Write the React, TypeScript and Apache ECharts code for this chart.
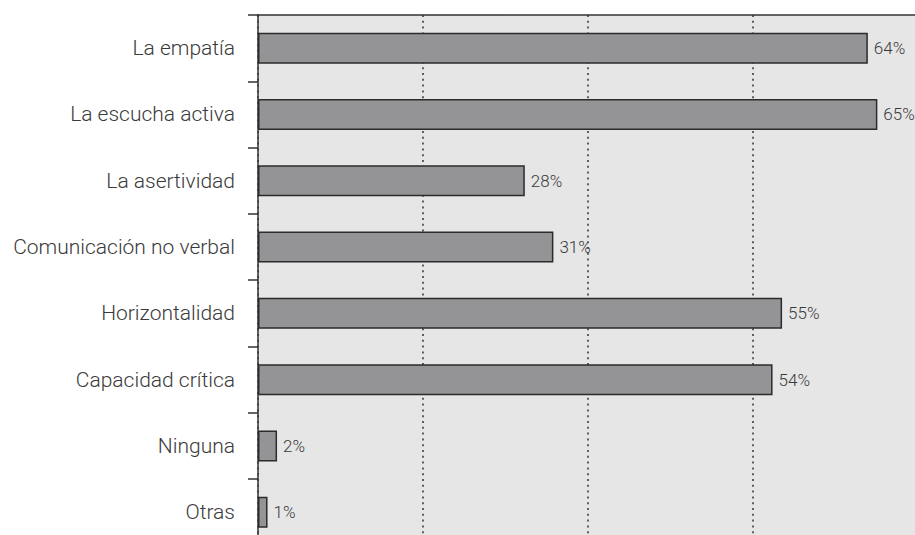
import React, { useEffect, useRef } from "react";
import * as echarts from "echarts";

const categories: string[] = [
  "La empatía",
  "La escucha activa",
  "La asertividad",
  "Comunicación no verbal",
  "Horizontalidad",
  "Capacidad crítica",
  "Ninguna",
  "Otras",
];
const values: number[] = [64, 65, 28, 31, 55, 54, 2, 1];

const AXIS_MAX = 69.16;
const AXIS_INTERVAL = 17.29;

export default function App() {
  const ref = useRef<HTMLDivElement>(null);
  useEffect(() => {
    if (!ref.current) return;
    const chart = echarts.init(ref.current, undefined, { renderer: "svg" });
    chart.setOption({
      animation: false,
      grid: {
        left: 258,
        top: 15,
        width: 659,
        height: 530.4,
        show: true,
        backgroundColor: "#e6e6e7",
        borderWidth: 0,
      },
      xAxis: {
        type: "value",
        position: "top",
        min: 0,
        max: AXIS_MAX,
        interval: AXIS_INTERVAL,
        axisLine: { show: true, lineStyle: { color: "#333", width: 1.5 } },
        axisTick: { show: false },
        axisLabel: { show: false },
        splitLine: {
          show: true,
          lineStyle: { color: "#333", width: 1.5, type: [2, 3.8] },
        },
      },
      yAxis: {
        type: "category",
        inverse: true,
        data: categories,
        axisLine: { show: true, lineStyle: { color: "#333", width: 1.5 } },
        axisTick: { show: true, length: 10, lineStyle: { color: "#333", width: 1.5 } },
        axisLabel: {
          margin: 23,
          color: "#3a3a3a",
          fontSize: 21,
          fontFamily: "Roboto",
          fontWeight: 300,
        },
        splitLine: { show: false },
      },
      series: [
        {
          type: "bar",
          data: values,
          barWidth: 31,
          itemStyle: { color: "#949496", borderColor: "#2b2b2b", borderWidth: 1.5 },
          label: {
            show: true,
            position: "right",
            distance: 6,
            formatter: "{c}%",
            color: "#3a3a3a",
            fontSize: 17,
            fontFamily: "Roboto",
            fontWeight: 300,
          },
        },
      ],
    });
    return () => chart.dispose();
  }, []);
  return (
    <div
      style={{
        position: "fixed",
        left: 0,
        top: 0,
        width: 915,
        height: 535,
        overflow: "hidden",
        background: "#fff",
      }}
    >
      <div ref={ref} style={{ width: 1000, height: 600 }} />
    </div>
  );
}
